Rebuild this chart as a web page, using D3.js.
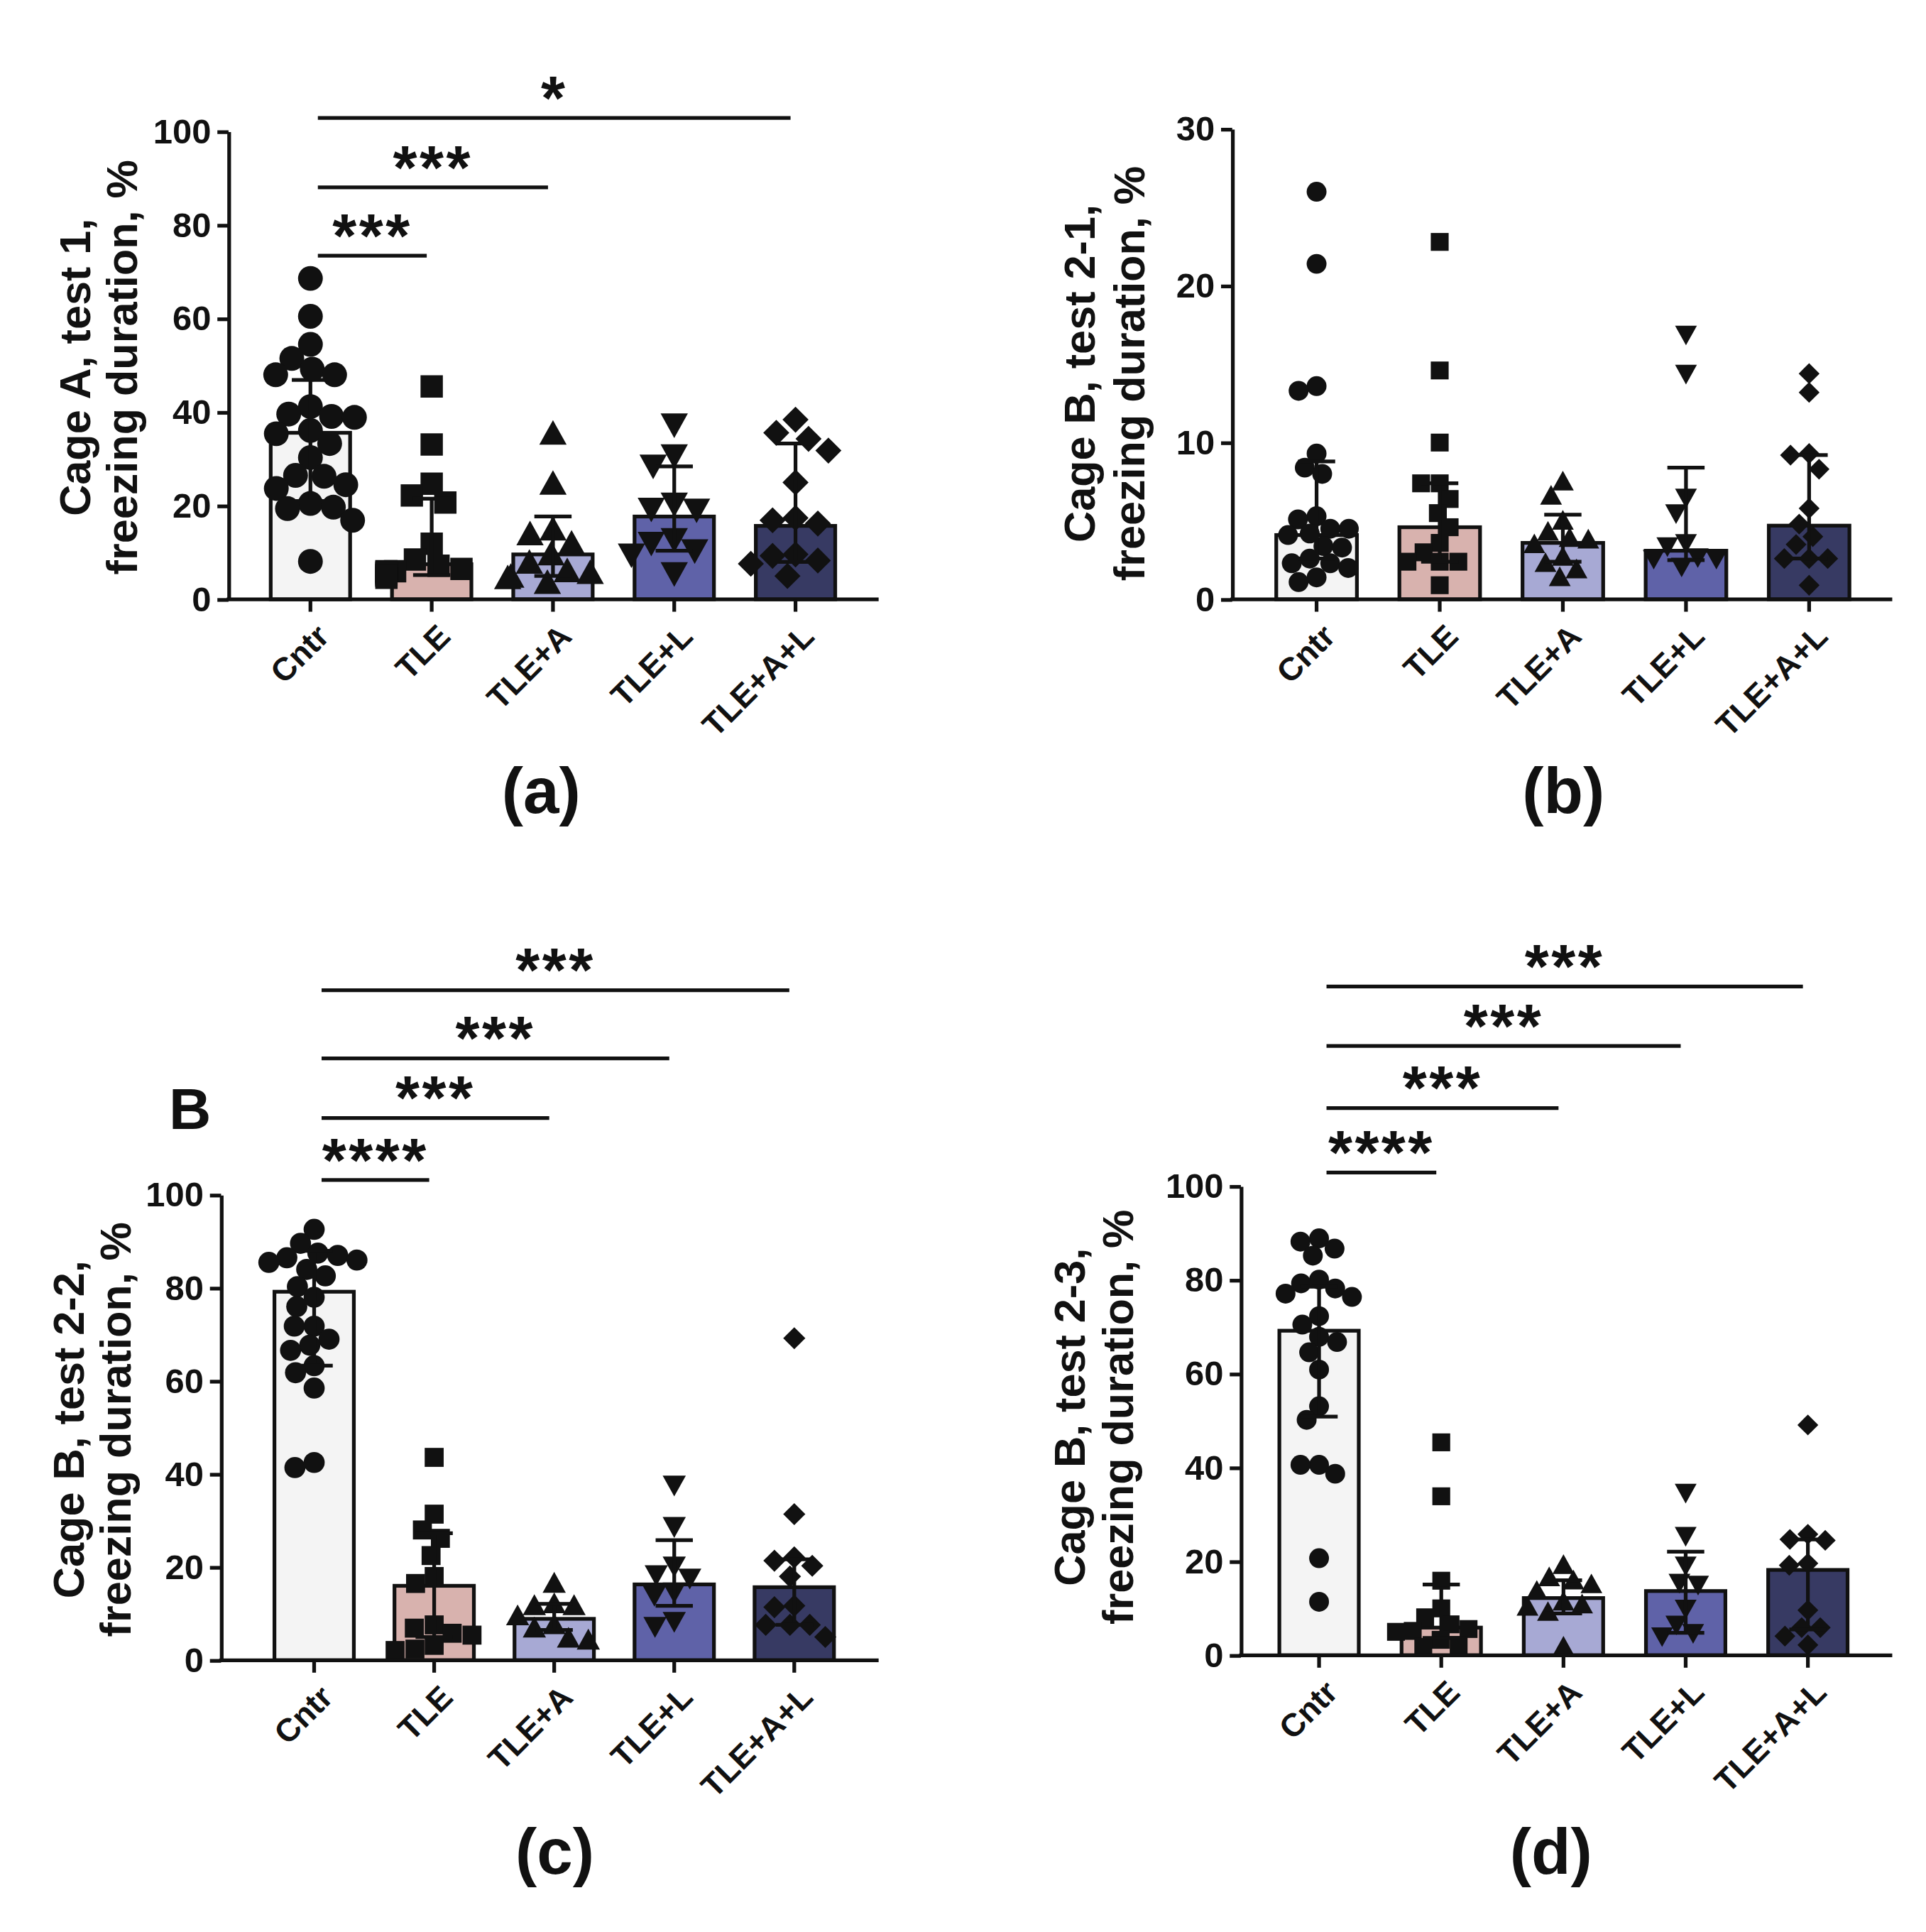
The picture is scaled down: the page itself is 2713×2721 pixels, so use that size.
<!DOCTYPE html>
<html>
<head>
<meta charset="utf-8">
<script src="https://cdn.jsdelivr.net/npm/d3@7/dist/d3.min.js"></script>
<style>
  html, body { margin: 0; padding: 0; background: #fff; }
  svg text { font-family: "Liberation Sans", Arial, sans-serif; font-weight: bold; fill: #111; }
</style>
</head>
<body>
<svg id="fig"></svg>
<script>
// groups on the x axis
const categories = ["Cntr", "TLE", "TLE+A", "TLE+L", "TLE+A+L"];
const barColors = ["#f4f4f4", "#d8b2ae", "#a7a9d4", "#5f62a8", "#373a63"];
const shapes = ["circle", "square", "triangle", "triangleDown", "diamond"];

// (a) Cage A, test 1 - individual animals, %
const aCntr = [68.6, 60.5, 54.5, 51.5, 49.2, 48.0, 48.0, 41.2, 39.6, 38.9, 39.1, 36.1, 35.4, 33.3, 30.3, 26.3, 26.5, 23.7, 24.5, 20.5, 19.7, 19.4, 16.9, 8.1];
const aTLE = [45.5, 33.1, 24.7, 22.2, 20.7, 11.9, 8.5, 7.2, 6.5, 6.0, 6.0, 5.8, 5.5, 5.2, 5.0, 4.6];
const aTLEA = [35.4, 24.7, 14.9, 13.9, 11.9, 9.6, 7.8, 6.0, 5.6, 4.8, 4.5, 3.5];
const aTLEL = [37.4, 30.8, 28.6, 20.5, 19.4, 19.2, 12.9, 12.1, 10.5, 9.6, 5.6];
const aTLEAL = [38.4, 35.6, 34.3, 31.8, 25.0, 17.4, 16.9, 16.2, 9.6, 9.3, 8.3, 7.6, 5.0];
const aMedian = [35.6, 7.5, 9.6, 17.7, 15.7];
const aQ1 = [21.0, 5.2, 5.0, 10.4, 8.0];
const aQ3 = [46.9, 21.5, 17.7, 28.4, 33.3];

// (b) Cage B, test 2-1
const bCntr = [26.0, 21.4, 13.6, 13.3, 9.3, 8.4, 8.0, 5.3, 5.1, 4.5, 4.5, 4.2, 4.1, 3.4, 3.3, 2.6, 2.3, 2.3, 2.0, 1.4, 1.1];
const bTLE = [22.8, 14.6, 10.0, 7.4, 7.4, 6.4, 5.5, 4.6, 3.6, 3.0, 2.4, 2.4, 2.4, 0.9];
const bTLEA = [7.5, 6.6, 5.0, 4.3, 3.9, 3.8, 3.5, 2.7, 2.3, 1.9, 1.4];
const bTLEL = [16.9, 14.4, 6.5, 5.5, 3.6, 3.4, 2.7, 2.6, 2.6, 2.1];
const bTLEAL = [14.4, 13.2, 9.3, 9.2, 8.3, 5.8, 4.8, 4.0, 3.5, 2.6, 2.6, 2.6, 0.9];
const bMedian = [4.1, 4.6, 3.6, 3.1, 4.7];
const bQ1 = [2.6, 2.4, 2.4, 2.5, 2.6];
const bQ3 = [8.8, 7.4, 5.4, 8.4, 9.2];

// (c) Cage B, test 2-2
const cCntr = [92.6, 89.6, 87.5, 87.0, 86.5, 86.0, 85.5, 84.0, 82.6, 80.3, 78.0, 76.0, 71.8, 71.8, 69.0, 67.7, 66.6, 63.3, 61.8, 58.5, 42.5, 41.4];
const cTLE = [43.6, 31.4, 28.0, 26.2, 22.5, 18.0, 16.5, 7.6, 6.9, 5.8, 5.4, 3.2, 2.4, 2.1];
const cTLEA = [16.5, 12.1, 11.7, 11.7, 9.5, 7.6, 6.9, 4.7, 4.3];
const cTLEL = [37.7, 28.8, 20.3, 18.4, 17.7, 14.7, 14.0, 8.4, 7.3];
const cTLEAL = [69.2, 31.4, 22.1, 21.4, 20.3, 18.0, 11.7, 11.4, 7.6, 7.6, 7.6, 5.0];
const cMedian = [79.2, 16.0, 8.9, 16.3, 15.7];
const cQ1 = [63.3, 5.0, 6.5, 11.7, 7.6];
const cQ3 = [88.0, 27.3, 12.1, 25.8, 21.7];

// (d) Cage B, test 2-3
const dCntr = [88.9, 88.2, 86.7, 85.2, 80.1, 79.3, 78.2, 77.1, 76.4, 72.3, 70.5, 67.9, 66.8, 64.6, 60.9, 53.1, 50.2, 40.6, 40.6, 38.7, 20.7, 11.4];
const dTLE = [45.4, 33.9, 15.9, 10.0, 8.1, 6.6, 5.6, 5.2, 5.0, 3.3, 2.2, 1.8];
const dTLEA = [19.2, 16.6, 15.9, 15.1, 13.7, 11.4, 10.8, 10.3, 9.2, 1.8];
const dTLEL = [34.7, 25.5, 19.2, 15.5, 15.1, 10.0, 6.6, 4.8, 4.1];
const dTLEAL = [49.1, 25.8, 24.7, 24.5, 19.6, 19.2, 9.6, 5.9, 5.9, 4.1, 2.2];
const dMedian = [69.2, 5.9, 12.2, 13.7, 18.2];
const dQ1 = [50.9, 3.7, 8.9, 4.8, 5.5];
const dQ3 = [78.6, 15.1, 16.0, 22.1, 24.7];

// significance brackets: Cntr vs group index
const aSig = [{ to: 1, stars: "***" }, { to: 2, stars: "***" }, { to: 4, stars: "*" }];
const cSig = [{ to: 1, stars: "****" }, { to: 2, stars: "***" }, { to: 3, stars: "***" }, { to: 4, stars: "***" }];
const dSig = [{ to: 1, stars: "****" }, { to: 2, stars: "***" }, { to: 3, stars: "***" }, { to: 4, stars: "***" }];

const W = 1552, H = 1557;
const svg = d3.select("#fig")
    .attr("width", 2713).attr("height", 2721)
    .attr("viewBox", [0, 0, W, H]);

const panels = [
    {
        points: [aCntr, aTLE, aTLEA, aTLEL, aTLEAL], med: aMedian, q1: aQ1, q3: aQ3,
        yMax: 100, yTicks: [0, 20, 40, 60, 80, 100], sig: aSig, sigY: [206, 151, 95],
        left: 184, right: 708, top: 106, bottom: 483, first: 250, last: 641, barW: 64, r: 10,
        title: ["Cage A, test 1,", "freezing duration, %"], titleX: [60, 98], titleY: 296,
        label: "(a)", labelX: 436, labelY: 655
    },
    {
        points: [bCntr, bTLE, bTLEA, bTLEL, bTLEAL], med: bMedian, q1: bQ1, q3: bQ3,
        yMax: 30, yTicks: [0, 10, 20, 30], sig: [], sigY: [],
        left: 993, right: 1525, top: 104, bottom: 483, first: 1061, last: 1458, barW: 65, r: 8,
        title: ["Cage B, test 2-1,", "freezing duration, %"], titleX: [870, 910], titleY: 301,
        label: "(b)", labelX: 1260, labelY: 655
    },
    {
        points: [cCntr, cTLE, cTLEA, cTLEL, cTLEAL], med: cMedian, q1: cQ1, q3: cQ3,
        yMax: 100, yTicks: [0, 20, 40, 60, 80, 100], sig: cSig, sigY: [951, 901, 853, 798],
        left: 178, right: 708, top: 963, bottom: 1338, first: 253, last: 640, barW: 64, r: 8.5,
        title: ["Cage B, test 2-2,", "freezing duration, %"], titleX: [55, 93], titleY: 1152,
        label: "(c)", labelX: 447, labelY: 1510
    },
    {
        points: [dCntr, dTLE, dTLEA, dTLEL, dTLEAL], med: dMedian, q1: dQ1, q3: dQ3,
        yMax: 100, yTicks: [0, 20, 40, 60, 80, 100], sig: dSig, sigY: [945, 893, 843, 795],
        left: 1000, right: 1525, top: 956, bottom: 1334, first: 1063, last: 1457, barW: 64, r: 8,
        title: ["Cage B, test 2-3,", "freezing duration, %"], titleX: [862, 901], titleY: 1142,
        label: "(d)", labelX: 1250, labelY: 1510
    }
];

function markerPath(shape, r) {
    if (shape === "circle") return d3.symbol(d3.symbolCircle, Math.PI * r * r)();
    if (shape === "square") { const s = r * 0.9; return `M${-s},${-s}H${s}V${s}H${-s}Z`; }
    if (shape === "triangle") { const s = r * 1.1; return `M0,${-s}L${s},${s * 0.8}L${-s},${s * 0.8}Z`; }
    if (shape === "triangleDown") { const s = r * 1.1; return `M0,${s}L${s},${-s * 0.8}L${-s},${-s * 0.8}Z`; }
    const s = r * 1.05;
    return `M0,${-s}L${s},0L0,${s}L${-s},0Z`;
}

// simple beeswarm so markers with close values sit side by side
function swarm(values, y, r, maxHalf) {
    const placed = [];
    const order = values.map((v, i) => i).sort((i, j) => values[j] - values[i]);
    const minD = r * 1.85;
    order.forEach(i => {
        const py = y(values[i]);
        let best = 0;
        for (let k = 0; k < 400; k++) {
            const off = (k % 2 === 0 ? 1 : -1) * Math.ceil(k / 2) * 0.5;
            const ok = placed.every(p => Math.hypot(p.dx - off, p.y - py) >= minD);
            if (ok || Math.abs(off) > maxHalf) { best = off; break; }
        }
        placed.push({ dx: best, y: py, v: values[i] });
    });
    return placed;
}

panels.forEach(p => {
    const g = svg.append("g");
    const y = d3.scaleLinear().domain([0, p.yMax]).range([p.bottom, p.top]);
    const x = d3.scalePoint().domain(categories).range([p.first, p.last]);

    // bars (median)
    g.selectAll("rect.bar").data(categories).join("rect")
        .attr("x", d => x(d) - p.barW / 2)
        .attr("y", (d, i) => y(p.med[i]))
        .attr("width", p.barW)
        .attr("height", (d, i) => y(0) - y(p.med[i]))
        .attr("fill", (d, i) => barColors[i])
        .attr("stroke", "#111").attr("stroke-width", 3);

    // points
    categories.forEach((c, i) => {
        const pts = swarm(p.points[i], y, p.r, p.barW / 2 + 4);
        g.append("g").selectAll("path").data(pts).join("path")
            .attr("d", markerPath(shapes[i], p.r))
            .attr("transform", d => `translate(${x(c) + d.dx},${d.y})`)
            .attr("fill", "#111");
    });

    // interquartile range whiskers
    const eb = g.append("g").attr("stroke", "#111").attr("stroke-width", 3);
    categories.forEach((c, i) => {
        const cx = x(c), cap = 15;
        eb.append("line").attr("x1", cx).attr("x2", cx).attr("y1", y(p.q1[i])).attr("y2", y(p.q3[i]));
        eb.append("line").attr("x1", cx - cap).attr("x2", cx + cap).attr("y1", y(p.q3[i])).attr("y2", y(p.q3[i]));
        eb.append("line").attr("x1", cx - cap).attr("x2", cx + cap).attr("y1", y(p.q1[i])).attr("y2", y(p.q1[i]));
    });

    // y axis
    const yAxis = g.append("g").attr("transform", `translate(${p.left},0)`)
        .call(d3.axisLeft(y).tickValues(p.yTicks).tickSize(9).tickPadding(5).tickSizeOuter(0));
    yAxis.select(".domain").attr("stroke", "#111").attr("stroke-width", 3);
    yAxis.selectAll(".tick line").attr("stroke", "#111").attr("stroke-width", 3);
    yAxis.selectAll(".tick text").attr("font-size", 28).attr("fill", "#111");

    // x axis
    const xAxis = g.append("g").attr("transform", `translate(0,${p.bottom})`);
    xAxis.append("line").attr("x1", p.left - 1.5).attr("x2", p.right)
        .attr("stroke", "#111").attr("stroke-width", 3);
    categories.forEach(c => {
        xAxis.append("line").attr("x1", x(c)).attr("x2", x(c)).attr("y1", 0).attr("y2", 10)
            .attr("stroke", "#111").attr("stroke-width", 3);
        xAxis.append("text")
            .attr("transform", `translate(${x(c) + 10},${25}) rotate(-45)`)
            .attr("text-anchor", "end").attr("dy", "0.35em")
            .attr("font-size", 26).text(c);
    });

    // y title
    p.title.forEach((t, k) => {
        g.append("text")
            .attr("transform", `translate(${p.titleX[k]},${p.titleY}) rotate(-90)`)
            .attr("text-anchor", "middle").attr("dy", "0.35em")
            .attr("font-size", 35).text(t);
    });

    // significance
    p.sig.forEach((s, k) => {
        const ly = p.sigY[k];
        const x1 = x(categories[0]) + 6, x2 = x(categories[s.to]) - 4;
        g.append("line").attr("x1", x1).attr("x2", x2).attr("y1", ly).attr("y2", ly)
            .attr("stroke", "#111").attr("stroke-width", 3);
        g.append("text").attr("x", (x1 + x2) / 2).attr("y", ly + 1)
            .attr("text-anchor", "middle").attr("font-size", 50)
            .attr("letter-spacing", 2).text(s.stars);
    });

    // panel label
    g.append("text").attr("x", p.labelX).attr("y", p.labelY)
        .attr("text-anchor", "middle").attr("font-size", 52).text(p.label);
});

// section letter
svg.append("text").attr("x", 153).attr("y", 910).attr("text-anchor", "middle")
    .attr("font-size", 47).text("B");
</script>
</body>
</html>
